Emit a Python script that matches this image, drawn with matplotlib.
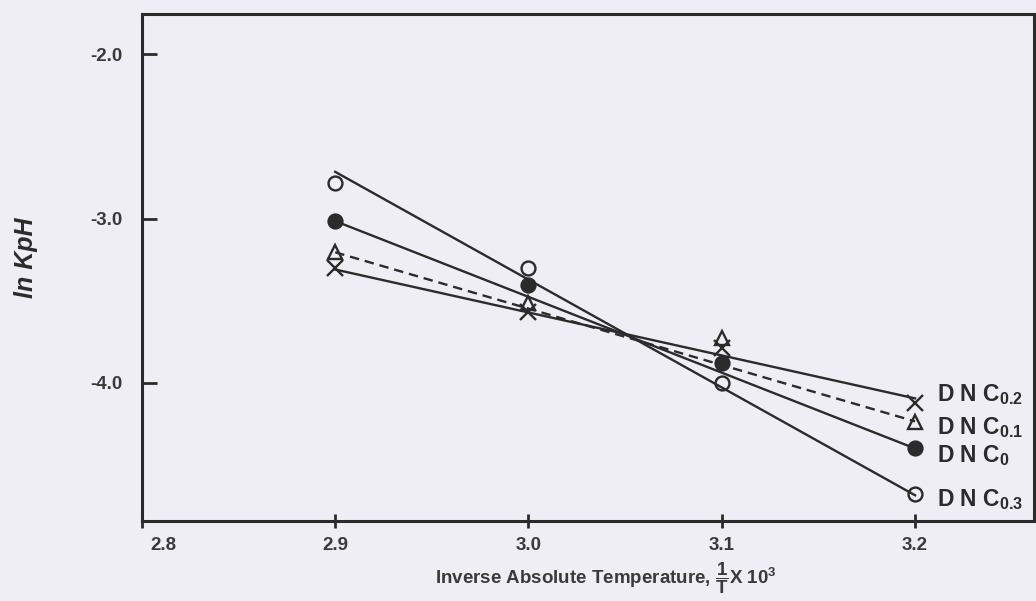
import matplotlib.pyplot as plt
from matplotlib.transforms import ScaledTranslation

plt.rcParams['font.family'] = ['Liberation Sans', 'DejaVu Sans']
plt.rcParams['mathtext.fontset'] = 'custom'
plt.rcParams['mathtext.rm'] = 'Liberation Sans:bold'
plt.rcParams['mathtext.bf'] = 'Liberation Sans:bold'
plt.rcParams['mathtext.it'] = 'Liberation Sans:bold:italic'

# data
temp_inv = [2.9, 3.0, 3.1, 3.2]
dnc_03 = [-2.78, -3.30, -4.00, -4.675]
dnc_0 = [-3.015, -3.405, -3.88, -4.40]
dnc_01 = [-3.205, -3.515, -3.73, -4.24]
dnc_02 = [-3.30, -3.57, -3.79, -4.12]

# fitted straight lines (end values)
fit_x = [2.9, 3.2]
fit_03 = [-2.715, -4.685]
fit_0 = [-3.015, -4.40]
fit_01 = [-3.205, -4.235]
fit_02 = [-3.31, -4.095]

x_ticks = [2.8, 2.9, 3.0, 3.1, 3.2]
y_ticks = [-2.0, -3.0, -4.0]

bg = '#efeef4'
ink = '#2b2b2b'

fig = plt.figure(figsize=(10.36, 6.01), dpi=100, facecolor=bg)
ax = fig.add_axes([0.137, 0.1336, 0.861, 0.843], facecolor=bg)

series = [
    (dnc_03, fit_03, 'o', 'none', '-', r'D N C$_{\mathrm{0.3}}$', (16, -4)),
    (dnc_0, fit_0, 'o', ink, '-', r'D N C$_{\mathrm{0}}$', (16, -5)),
    (dnc_01, fit_01, '^', 'none', '--', r'D N C$_{\mathrm{0.1}}$', (16, -4)),
    (dnc_02, fit_02, 'x', ink, '-', r'D N C$_{\mathrm{0.2}}$', (16, 6)),
]

for pts, fit, mk, fc, ls, lab, off in series:
    ax.plot(fit_x, fit, color=ink, lw=1.7, ls=ls, dashes=(4, 2.5) if ls == '--' else (None, None))
    ax.plot(temp_inv, pts, ls='none', marker=mk, ms=10 if mk != 'x' else 12,
            mfc=fc, mec=ink, mew=1.7)
    ax.annotate(lab, xy=(temp_inv[-1], pts[-1]), xytext=off, textcoords='offset points',
                ha='left', va='center', fontsize=16.5, fontweight='bold', color=ink)

ax.set_xlim(2.8, 3.2615)
ax.set_ylim(-4.84, -1.754)
ax.set_xticks(x_ticks)
ax.set_xticklabels(['%.1f' % v for v in x_ticks])
ax.set_yticks(y_ticks)
ax.set_yticklabels(['%.1f' % v for v in y_ticks])

ax.tick_params(axis='y', direction='in', length=11, width=2, pad=14,
               labelsize=13.5, colors=ink)
ax.tick_params(axis='x', direction='inout', length=10, width=2, pad=7,
               labelsize=13.5, colors=ink)
for lbl in ax.get_xticklabels() + ax.get_yticklabels():
    lbl.set_fontweight('bold')
    lbl.set_color('#3a3a3a')
# the first x label sits to the right of the corner in the original
first = ax.get_xticklabels()[0]
first.set_transform(first.get_transform() + ScaledTranslation(0.22, 0, fig.dpi_scale_trans))

for sp in ax.spines.values():
    sp.set_linewidth(2.2)
    sp.set_color(ink)

ax.set_xlabel(r'Inverse Absolute Temperature, $\dfrac{1}{\mathrm{T}}$X 10$^{3}$',
              fontsize=13.5, fontweight='bold', color='#3a3a3a')
ax.xaxis.set_label_coords(0.52, -0.077)
ax.set_ylabel('ln KpH', fontsize=18, fontstyle='italic', fontweight='bold', color=ink)
ax.yaxis.set_label_coords(-0.117, 0.52)

fig.savefig('out.png', dpi=100, facecolor=bg)
